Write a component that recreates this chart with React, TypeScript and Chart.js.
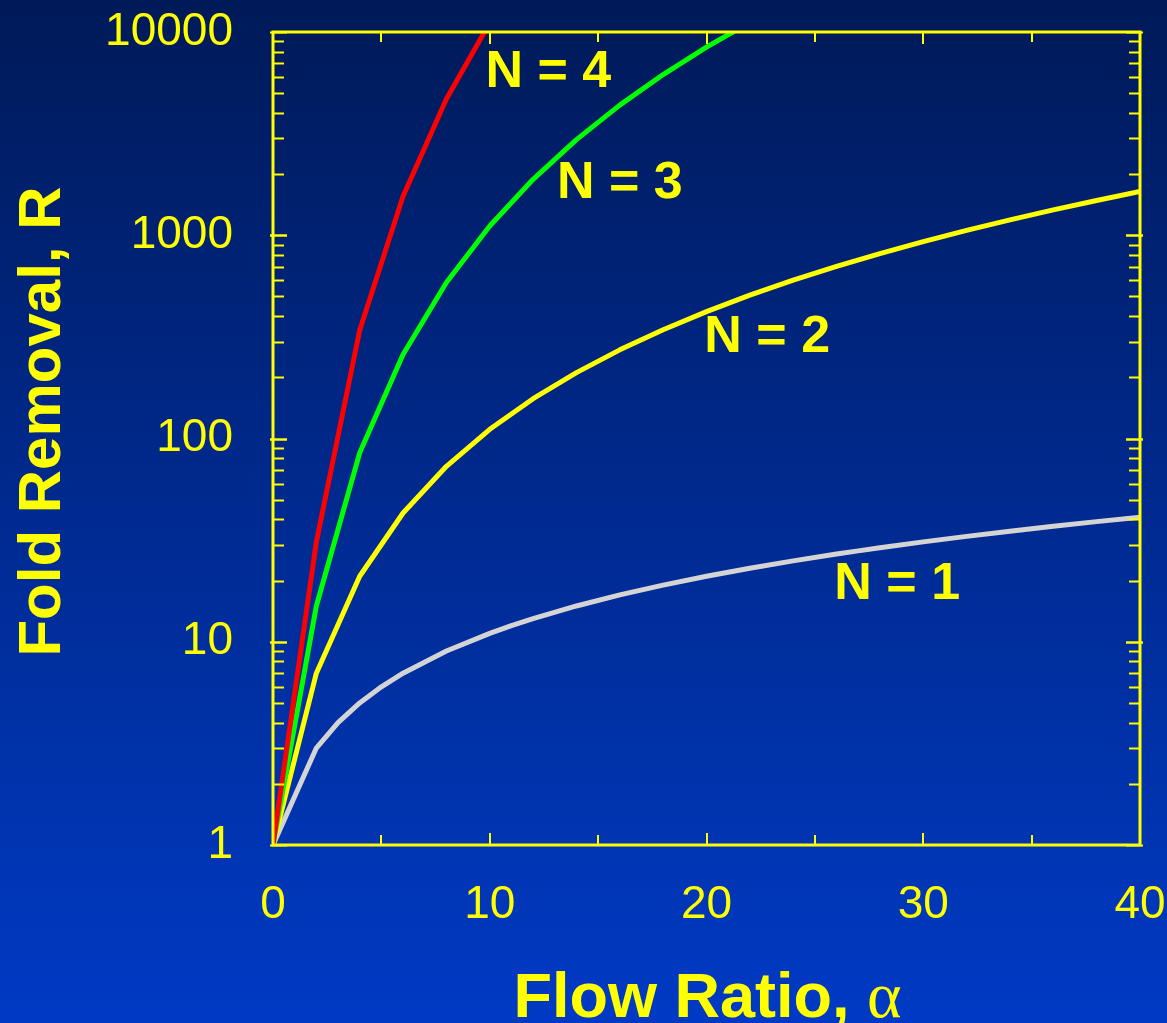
import React, { useEffect, useRef } from "react";
import { Chart, registerables } from "chart.js";

Chart.register(...registerables);

// ---- data ----
const alphaN1 = [0, 2, 3, 4, 5, 6, 8, 10, 11, 12, 14, 16, 18, 20, 22, 24, 26, 27, 28, 30, 32, 34, 36, 38, 40];
const foldN1 = [1, 3, 4, 5, 6, 7, 9, 11, 12, 13, 15, 17, 19, 21, 23, 25, 27, 28, 29, 31, 33, 35, 37, 39, 41];

const alphaN2 = [0, 2, 4, 6, 8, 10, 12, 14, 16, 18, 20, 22, 24, 26, 28, 30, 32, 34, 36, 38, 40];
const foldN2 = [1, 7, 21, 43, 73, 111, 157, 211, 273, 343, 421, 507, 601, 703, 813, 931, 1057, 1191, 1333, 1483, 1641];

const alphaN3 = [0, 2, 4, 6, 8, 10, 12, 14, 16, 18, 20, 22];
const foldN3 = [1, 15, 85, 259, 585, 1111, 1885, 2955, 4369, 6175, 8421, 11155];

const alphaN4 = [0, 2, 4, 6, 8, 10];
const foldN4 = [1, 31, 341, 1555, 4681, 11111];

const xTickValues = [0, 10, 20, 30, 40];
const yTickValues = [1, 10, 100, 1000, 10000];

const seriesLabels = ["N = 4", "N = 3", "N = 2", "N = 1"];
const labelAlpha = [12.7, 16.0, 22.8, 28.8];
const labelFold = [6300, 1800, 315, 19];

const xTitleMain = "Flow Ratio, ";
const xTitleSymbol = "α";
const yTitle = "Fold Removal, R";

const FONT = '"Liberation Sans", Arial, Helvetica, sans-serif';
const SERIF = '"Liberation Serif", "DejaVu Serif", serif';
const YELLOW = "#ffff00";

const toPoints = (xs: number[], ys: number[]) => xs.map((x, i) => ({ x, y: ys[i] }));

const zeroPadding = (scale: any) => {
  scale.paddingTop = 0;
  scale.paddingBottom = 0;
  scale.paddingLeft = 0;
  scale.paddingRight = 0;
};

export default function App() {
  const ref = useRef<HTMLCanvasElement>(null);

  useEffect(() => {
    document.body.style.margin = "0";
    const canvas = ref.current;
    if (!canvas) return;

    const bgPlugin = {
      id: "bgGradient",
      beforeDraw(chart: any) {
        const { ctx, width, height } = chart;
        const g = ctx.createLinearGradient(0, 0, 0, height);
        g.addColorStop(0, "#001a58");
        g.addColorStop(0.5, "#002a90");
        g.addColorStop(1, "#003ac4");
        ctx.save();
        ctx.fillStyle = g;
        ctx.fillRect(0, 0, width, height);
        ctx.restore();
      },
    };

    const framePlugin = {
      id: "frameTicks",
      afterDatasetsDraw(chart: any) {
        const { ctx, chartArea: a, scales } = chart;
        const xs = scales.x;
        const ys = scales.y;
        ctx.save();
        ctx.strokeStyle = YELLOW;
        ctx.lineWidth = 2;
        const line = (x1: number, y1: number, x2: number, y2: number) => {
          ctx.beginPath();
          ctx.moveTo(x1, y1);
          ctx.lineTo(x2, y2);
          ctx.stroke();
        };
        for (let v = 5; v < 40; v += 5) {
          const px = Math.round(xs.getPixelForValue(v));
          const len = v % 10 === 0 ? 12 : 10;
          line(px, a.bottom, px, a.bottom - len);
          line(px, a.top, px, a.top + len);
        }
        for (let d = 1; d < 10000; d *= 10) {
          for (let m = 1; m <= 10; m++) {
            const v = d * m;
            const py = Math.round(ys.getPixelForValue(v)) + 0.5;
            const major = m === 1 || m === 10;
            const len = major ? 14 : 11;
            line(a.left - (major ? 3 : 0), py, a.left + len, py);
            line(a.right + (major ? 3 : 0), py, a.right - len, py);
          }
        }
        ctx.lineWidth = 3;
        ctx.strokeRect(a.left, a.top, a.right - a.left, a.bottom - a.top);
        ctx.restore();
      },
    };

    const textPlugin = {
      id: "annotText",
      afterDraw(chart: any) {
        const { ctx, chartArea: a, scales } = chart;
        const xs = scales.x;
        const ys = scales.y;
        ctx.save();
        ctx.fillStyle = YELLOW;
        ctx.textAlign = "center";
        ctx.textBaseline = "middle";
        ctx.font = `bold 52px ${FONT}`;
        seriesLabels.forEach((t, i) => {
          ctx.fillText(t, xs.getPixelForValue(labelAlpha[i]), ys.getPixelForValue(labelFold[i]));
        });
        // x title: bold text + serif alpha
        ctx.textBaseline = "alphabetic";
        ctx.textAlign = "left";
        const mainFont = `bold 63px ${FONT}`;
        const symFont = `66px ${SERIF}`;
        ctx.font = mainFont;
        const w1 = ctx.measureText(xTitleMain).width;
        ctx.font = symFont;
        const w2 = ctx.measureText(xTitleSymbol).width;
        const startX = (a.left + a.right) / 2 + 1 - (w1 + w2) / 2;
        ctx.font = mainFont;
        ctx.fillText(xTitleMain, startX, 1017);
        ctx.font = symFont;
        ctx.fillText(xTitleSymbol, startX + w1, 1017);
        // y title
        ctx.textAlign = "center";
        ctx.translate(60, (a.top + a.bottom) / 2 - 17);
        ctx.rotate(-Math.PI / 2);
        ctx.font = `bold 60px ${FONT}`;
        ctx.fillText(yTitle, 0, 0);
        ctx.restore();
      },
    };

    const chart = new Chart(canvas, {
      type: "line",
      data: {
        datasets: [
          { label: "N = 4", data: toPoints(alphaN4, foldN4), borderColor: "#ff0000", borderWidth: 5 },
          { label: "N = 3", data: toPoints(alphaN3, foldN3), borderColor: "#00ff00", borderWidth: 5 },
          { label: "N = 2", data: toPoints(alphaN2, foldN2), borderColor: "#ffff00", borderWidth: 5 },
          { label: "N = 1", data: toPoints(alphaN1, foldN1), borderColor: "#d4d4d4", borderWidth: 5 },
        ].map((d) => ({ ...d, pointRadius: 0, tension: 0, fill: false, clip: 0, borderJoinStyle: "round" as const })),
      },
      options: {
        animation: false,
        responsive: false,
        maintainAspectRatio: false,
        layout: { padding: { top: 32, right: 27, left: 0, bottom: 0 } },
        plugins: { legend: { display: false }, tooltip: { enabled: false }, title: { display: false } },
        scales: {
          x: {
            type: "linear",
            min: 0,
            max: 40,
            grid: { display: false, drawTicks: false },
            border: { display: false },
            afterBuildTicks: (scale: any) => {
              scale.ticks = xTickValues.map((v) => ({ value: v }));
            },
            afterFit: (scale: any) => {
              scale.height = 178;
              zeroPadding(scale);
            },
            ticks: {
              color: YELLOW,
              padding: 33,
              autoSkip: false,
              maxRotation: 0,
              font: { family: FONT, size: 46 },
              callback: (v: any) => String(v),
            },
          },
          y: {
            type: "logarithmic",
            min: 1,
            max: 10000,
            grid: { display: false, drawTicks: false },
            border: { display: false },
            afterBuildTicks: (scale: any) => {
              scale.ticks = yTickValues.map((v) => ({ value: v }));
            },
            afterFit: (scale: any) => {
              scale.width = 273;
              zeroPadding(scale);
            },
            ticks: {
              color: YELLOW,
              padding: 40,
              autoSkip: false,
              font: { family: FONT, size: 46 },
              callback: (v: any) => String(v),
            },
          },
        },
      },
      plugins: [bgPlugin, framePlugin, textPlugin],
    });

    return () => chart.destroy();
  }, []);

  return (
    <div style={{ position: "absolute", left: 0, top: 0, width: 1167, height: 1023 }}>
      <canvas ref={ref} width={1167} height={1023} style={{ display: "block", width: 1167, height: 1023 }} />
    </div>
  );
}
